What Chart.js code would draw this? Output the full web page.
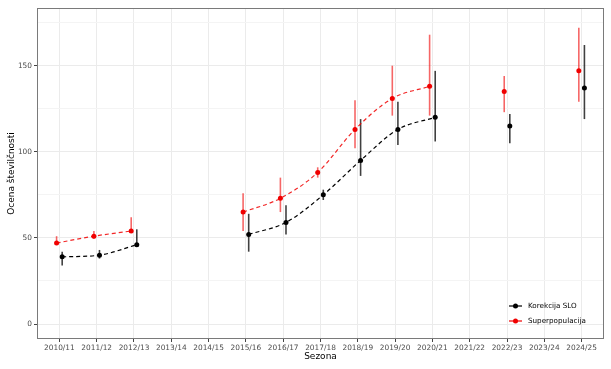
<!DOCTYPE html>
<html>
<head>
<meta charset="utf-8">
<script src="https://cdn.jsdelivr.net/npm/chart.js@4/dist/chart.umd.min.js"></script>
<style>
  html, body { margin: 0; padding: 0; background: #fff; }
  #wrap { width: 611px; height: 369px; }
</style>
</head>
<body>
<div id="wrap"><canvas id="chart" width="611" height="369"></canvas></div>
<script>
// Sezone na osi x
const seasons = ['2010/11', '2011/12', '2012/13', '2013/14', '2014/15', '2015/16', '2016/17',
  '2017/18', '2018/19', '2019/20', '2020/21', '2021/22', '2022/23', '2023/24', '2024/25'];

// Superpopulacija (ocena + interval)
const superpop     = [47, 51, 54, null, null, 65, 73, 88, 113, 131, 138, null, 135, null, 147];
const superpopLow  = [46, 49.5, 53, null, null, 54, 65, 85, 102, 121, 121, null, 123, null, 129];
const superpopHigh = [51, 54, 62, null, null, 76, 85, 91, 130, 150, 168, null, 144, null, 172];

// Korekcija SLO (ocena + interval)
const slo     = [39, 40, 46, null, null, 52, 59, 75, 95, 113, 120, null, 115, null, 137];
const sloLow  = [34, 38, 45.5, null, null, 42, 52, 72, 86, 104, 106, null, 105, null, 119];
const sloHigh = [42, 43, 55, null, null, 64, 69, 78, 119, 129, 147, null, 122, null, 162];

// Oznake na osi y
const yTicks = [0, 50, 100, 150];

const RED = '#f00000';
const dodge = 0.075;
const font = 'DejaVu Sans';

function toPoints(values, shift) {
  return values.map((v, i) => ({ x: i + shift, y: v }));
}

// Intervali zaupanja kot navpične črte
const errorBars = {
  id: 'errorBars',
  beforeDatasetsDraw(chart) {
    const { ctx, scales: { x, y } } = chart;
    const sets = [
      { low: superpopLow, high: superpopHigh, shift: -dodge, color: 'rgba(240,0,0,0.6)' },
      { low: sloLow, high: sloHigh, shift: dodge, color: 'rgba(0,0,0,0.75)' }
    ];
    ctx.save();
    ctx.lineWidth = 1.6;
    sets.forEach(s => {
      ctx.strokeStyle = s.color;
      s.low.forEach((lo, i) => {
        if (lo === null) return;
        const px = x.getPixelForValue(i + s.shift);
        ctx.beginPath();
        ctx.moveTo(px, y.getPixelForValue(lo));
        ctx.lineTo(px, y.getPixelForValue(s.high[i]));
        ctx.stroke();
      });
    });
    ctx.restore();
  }
};

// Okvir, naslova osi in legenda
const frame = {
  id: 'frame',
  afterDraw(chart) {
    const { ctx, chartArea: a } = chart;
    ctx.save();
    ctx.strokeStyle = '#7a7a7a';
    ctx.lineWidth = 1;
    ctx.strokeRect(a.left + 0.5, a.top + 0.5, a.right - a.left - 1, a.bottom - a.top - 1);

    ctx.fillStyle = '#000';
    ctx.font = '9px "' + font + '"';
    ctx.textAlign = 'center';
    ctx.textBaseline = 'middle';
    ctx.fillText('Sezona', (a.left + a.right) / 2, 357);
    ctx.save();
    ctx.translate(11.5, (a.top + a.bottom) / 2);
    ctx.rotate(-Math.PI / 2);
    ctx.fillText('Ocena številčnosti', 0, 0);
    ctx.restore();

    const items = [['Korekcija SLO', '#000'], ['Superpopulacija', RED]];
    ctx.font = '7.2px "' + font + '"';
    ctx.textAlign = 'left';
    items.forEach((it, k) => {
      const yy = 306 + k * 15;
      ctx.strokeStyle = it[1];
      ctx.fillStyle = it[1];
      ctx.lineWidth = 1.2;
      ctx.beginPath();
      ctx.moveTo(509, yy);
      ctx.lineTo(522, yy);
      ctx.stroke();
      ctx.beginPath();
      ctx.arc(515.5, yy, 2.5, 0, Math.PI * 2);
      ctx.fill();
      ctx.fillStyle = '#000';
      ctx.fillText(it[0], 528, yy + 0.5);
    });
    ctx.restore();
  }
};

new Chart(document.getElementById('chart'), {
  type: 'line',
  data: {
    datasets: [
      {
        label: 'Superpopulacija',
        data: toPoints(superpop, -dodge),
        borderColor: 'rgba(240,0,0,0.85)',
        backgroundColor: RED,
        pointBackgroundColor: RED,
        borderDash: [4, 3],
        borderWidth: 1.2,
        pointRadius: 2.5,
        pointBorderWidth: 0,
        cubicInterpolationMode: 'monotone',
        spanGaps: false
      },
      {
        label: 'Korekcija SLO',
        data: toPoints(slo, dodge),
        borderColor: '#000',
        backgroundColor: '#000',
        pointBackgroundColor: '#000',
        borderDash: [4, 3],
        borderWidth: 1.2,
        pointRadius: 2.5,
        pointBorderWidth: 0,
        cubicInterpolationMode: 'monotone',
        spanGaps: false
      }
    ]
  },
  options: {
    responsive: false,
    animation: false,
    layout: { padding: { top: 8, right: 7, left: 0, bottom: 0 } },
    plugins: {
      legend: { display: false },
      tooltip: { enabled: false }
    },
    scales: {
      x: {
        type: 'linear',
        min: -0.6,
        max: 14.6,
        afterFit(scale) { scale.height = 30; },
        border: { display: false },
        grid: { color: '#ebebeb', tickColor: '#444', tickLength: 3, lineWidth: 1 },
        ticks: {
          stepSize: 1,
          includeBounds: false,
          autoSkip: false,
          maxRotation: 0,
          padding: 1.5,
          color: '#4d4d4d',
          font: { family: font, size: 7.4 },
          callback: v => seasons[v]
        }
      },
      y: {
        min: -8.7,
        max: 183.5,
        afterFit(scale) { scale.width = 37; },
        border: { display: false },
        grid: {
          color: c => yTicks.includes(c.tick.value) ? '#ebebeb' : '#f4f4f4',
          tickColor: c => yTicks.includes(c.tick.value) ? '#444' : 'rgba(0,0,0,0)',
          tickLength: 3,
          lineWidth: 1
        },
        ticks: {
          stepSize: 25,
          includeBounds: false,
          padding: 2,
          color: '#4d4d4d',
          font: { family: font, size: 7.4 },
          callback: v => yTicks.includes(v) ? v : ''
        }
      }
    }
  },
  plugins: [errorBars, frame]
});
</script>
</body>
</html>
